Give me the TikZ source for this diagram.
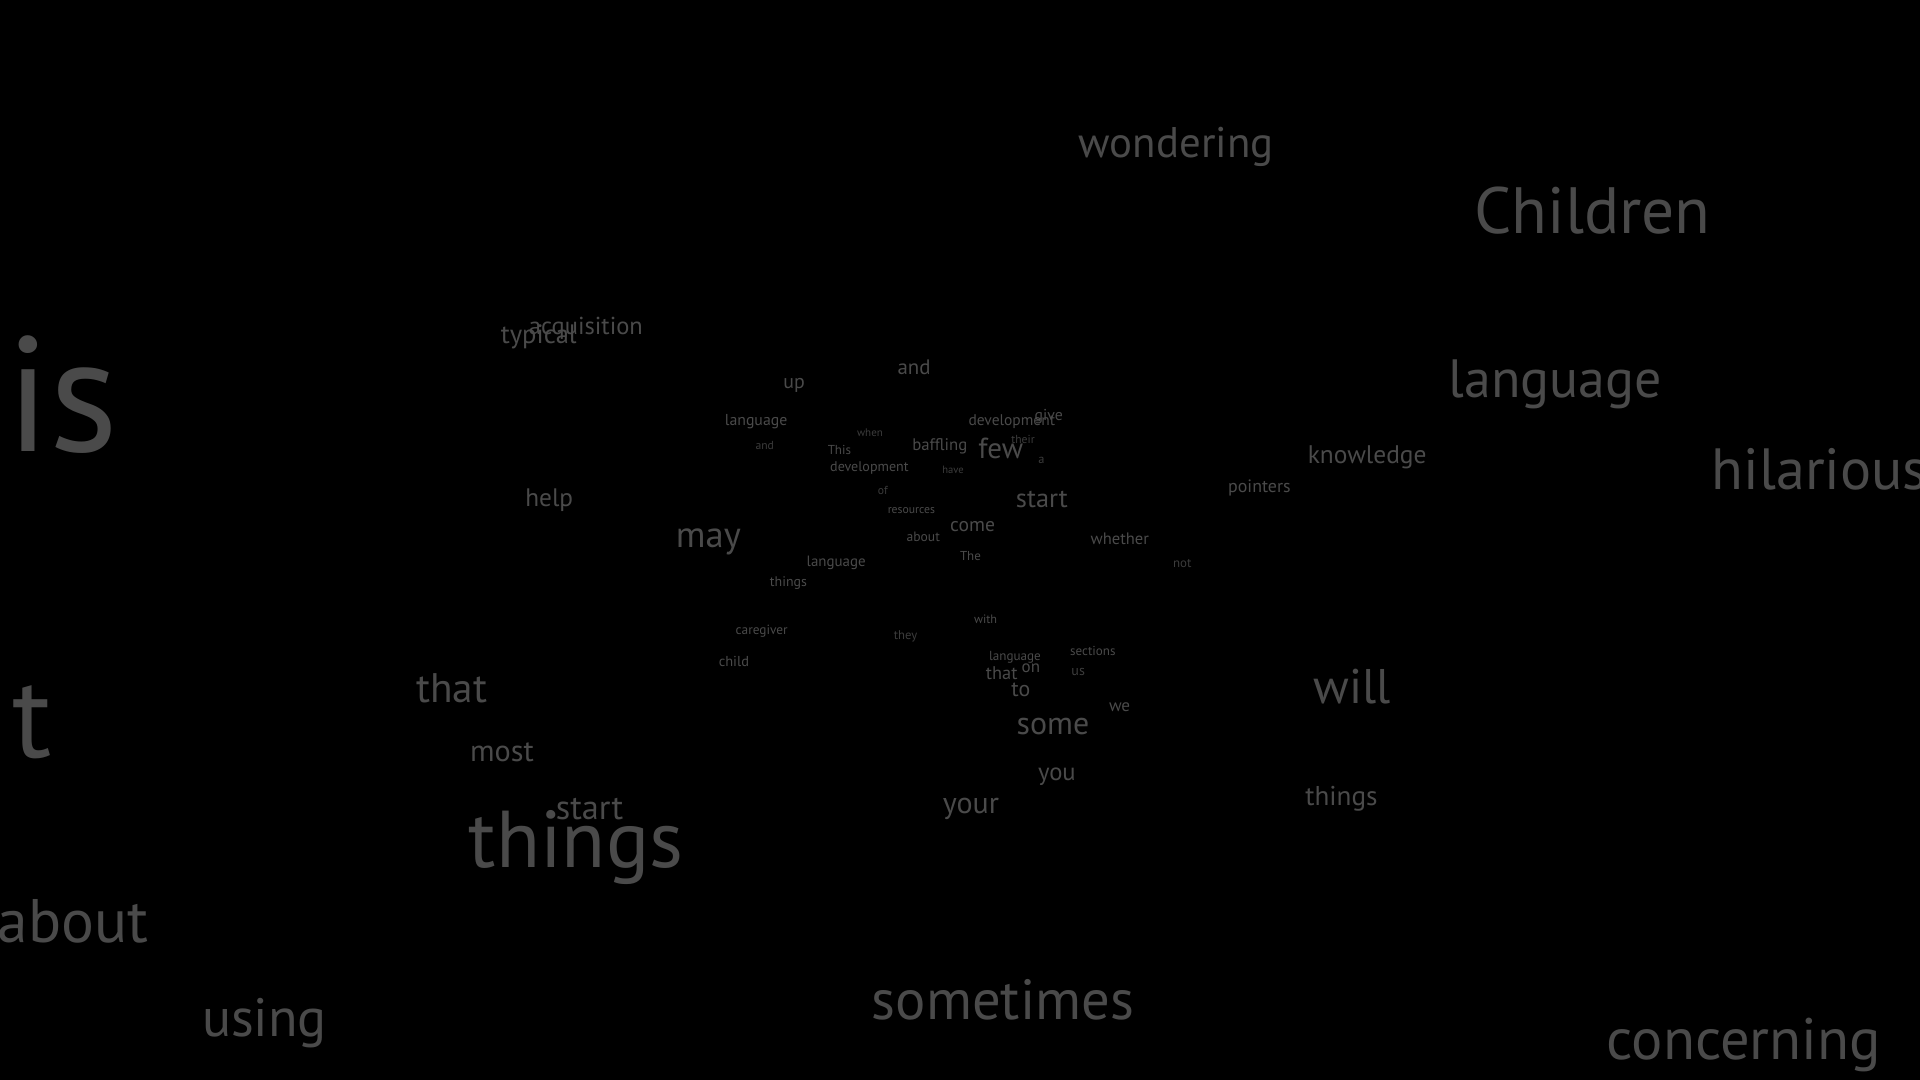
\documentclass[tikz,border=0pt]{standalone}
\usepackage{fontspec}
\setmainfont{PT Sans}
\usepackage{graphicx}
\definecolor{wg}{HTML}{4A4A4A}
\definecolor{wf}{HTML}{3C3C3C}
\tikzset{
  word/.style={anchor=base west, inner sep=0pt, outer sep=0pt, text=wg},
  faint/.style={word, text=wf}
}
\newcommand{\wrd}[6][word]{\node[#1] (#2) at (#3,#4) {\resizebox{#5pt}{!}{\fontsize{20}{24}\selectfont #6}};}
\begin{document}
\begin{tikzpicture}[x=1pt,y=-1pt]
\fill[black] (0,0) rectangle (1568,882);
\useasboundingbox (0,0) rectangle (1568,882);
\clip (0,0) rectangle (1568,882);
\begin{scope}[yshift=-1.5pt]
% large outer words
\wrd{is}{5}{367}{92}{is}
\wrd{t}{10}{617}{32}{t}
\wrd{aboutL}{-2}{768}{123}{about}
\wrd{using}{165}{845}{102}{using}
\wrd{wondering}{881}{127}{159}{wondering}
\wrd{Children}{1204}{189}{193}{Children}
\wrd{languageR}{1183}{323}{174}{language}
\wrd{hilarious}{1398}{398}{176}{hilarious}
\wrd{knowledge}{1068}{377}{97}{knowledge}
\wrd{pointers}{1003}{401}{51}{pointers}
\wrd{typical}{409}{279}{62}{typical}
\wrd{acquisition}{432}{272}{93}{acquisition}
\wrd{help}{429}{412}{39}{help}
\wrd{may}{552}{446}{53}{may}
\wrd{thatL}{340}{572}{58}{that}
\wrd{most}{384}{620}{52}{most}
\wrd{startL}{454}{668}{55}{start}
\wrd{thingsL}{383}{707}{175}{things}
\wrd{will}{1073}{573}{63}{will}
\wrd{thingsR}{1066}{656}{59}{things}
\wrd{sometimes}{712}{831}{214}{sometimes}
\wrd{concerning}{1312}{864}{224}{concerning}
% central cluster
\wrd{up}{639.7}{316}{17.5}{up}
\wrd{andT}{733}{304}{27}{and}
\wrd{langA}{592}{345.6}{51}{language}
\wrd[faint]{andS}{617}{365.6}{15}{and}
\wrd[faint]{when}{700}{355}{21}{when}
\wrd{This}{676}{369.7}{19}{This}
\wrd{devA}{678}{383.8}{64}{development}
\wrd{baffling}{745}{366.7}{45}{baffling}
\wrd{few}{799}{373}{36.5}{few}
\wrd{devB}{791}{345.7}{70.6}{development}
\wrd{give}{845}{341.6}{23}{give}
\wrd[faint]{their}{826}{360.7}{19}{their}
\wrd[faint]{a}{848}{377}{5}{a}
\wrd[faint]{have}{769.5}{385.5}{17.5}{have}
\wrd[faint]{of}{717}{402.7}{8}{of}
\wrd{resources}{725}{417.9}{38.6}{resources}
\wrd{startC}{829.7}{413}{42.3}{start}
\wrd{come}{776}{432.8}{36.6}{come}
\wrd{aboutS}{740.4}{440.4}{27.2}{about}
\wrd{whether}{890.7}{443.2}{47.6}{whether}
\wrd{The}{784}{456.5}{17}{The}
\wrd[faint]{not}{958}{462}{15}{not}
\wrd{langB}{658.8}{461.4}{48.2}{language}
\wrd{thingsS}{628.8}{477.2}{30.2}{things}
\wrd{caregiver}{600.8}{516.7}{42.5}{caregiver}
\wrd{child}{587}{542.8}{24.7}{child}
\wrd[faint]{they}{730}{521}{19}{they}
\wrd{with}{795.5}{507.4}{18.8}{with}
\wrd{sections}{874}{533.5}{37}{sections}
\wrd{langC}{807.7}{538.2}{42.3}{language}
\wrd{on}{834.4}{548}{15}{on}
\wrd{thatS}{805.2}{553.4}{25.8}{that}
\wrd[faint]{us}{875}{549.9}{11}{us}
\wrd{to}{826}{567}{15.4}{to}
\wrd{we}{905.7}{579.8}{17.3}{we}
\wrd{some}{830.3}{598.3}{59.3}{some}
\wrd{you}{847.7}{635.6}{30.8}{you}
\wrd{your}{770}{662.9}{45.8}{your}
\end{scope}
\end{tikzpicture}
\end{document}
